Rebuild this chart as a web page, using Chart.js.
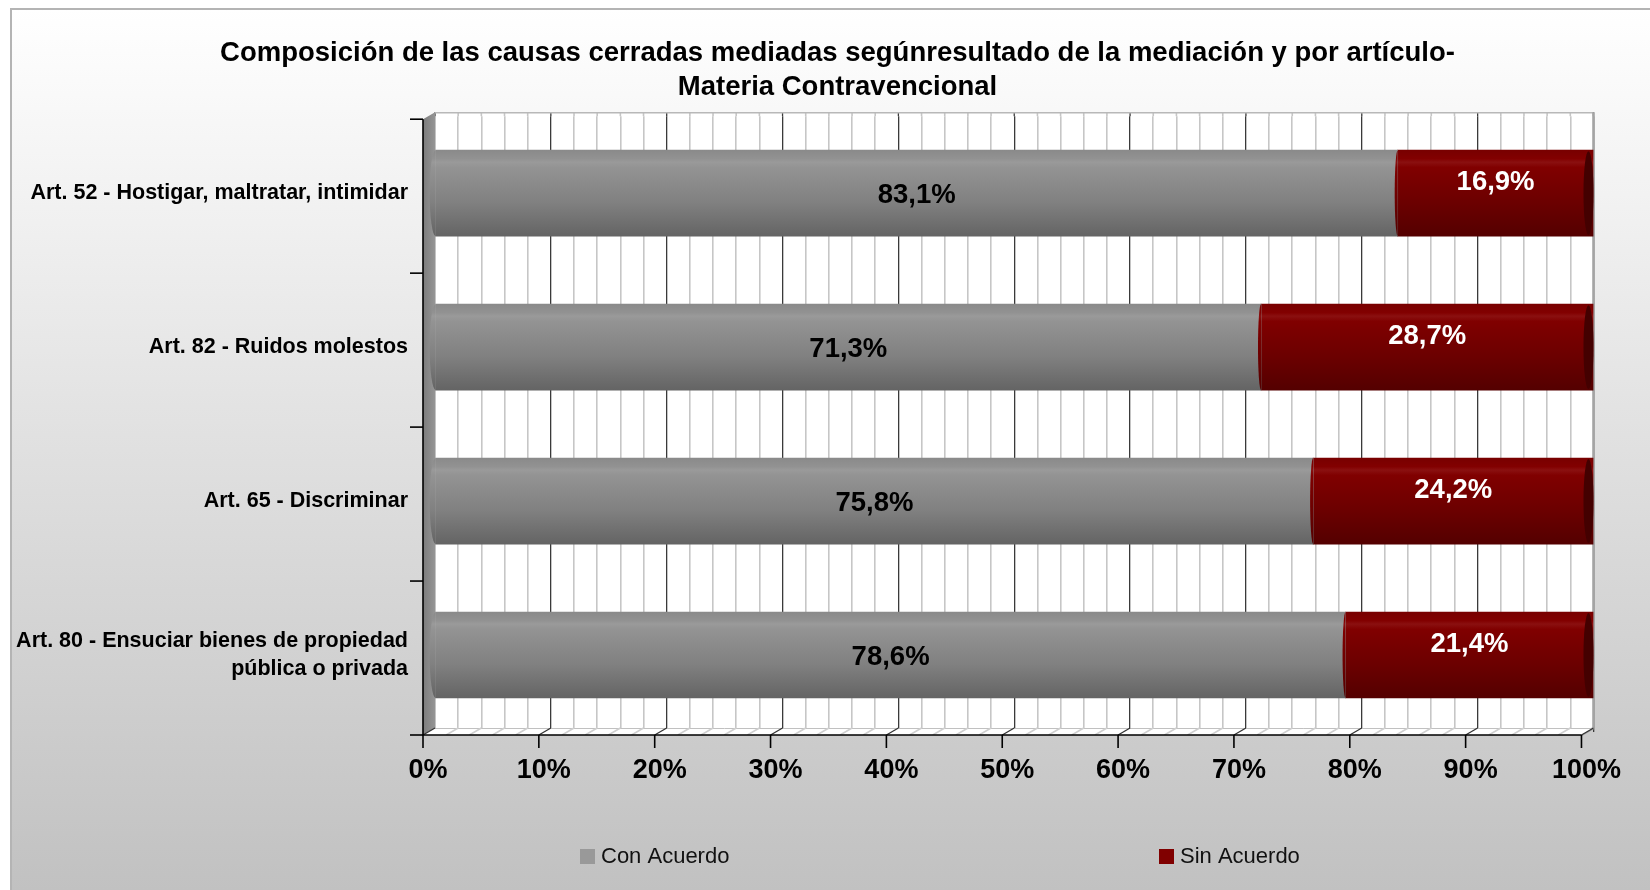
<!DOCTYPE html>
<html lang="es">
<head>
<meta charset="UTF-8">
<title>Composición de las causas cerradas mediadas</title>
<script src="https://cdn.jsdelivr.net/npm/chart.js@4.4.1/dist/chart.umd.min.js"></script>
<style>
  body { margin: 0; background: #fff; }
  canvas { display: block; }
</style>
</head>
<body>
<canvas id="chart" width="1650" height="890"></canvas>
<script>
// data
var categories = [
  'Art. 52 - Hostigar, maltratar, intimidar',
  'Art. 82 - Ruidos molestos',
  'Art. 65 - Discriminar',
  ['Art. 80 - Ensuciar bienes de propiedad', 'pública o privada']
];
var conAcuerdo = [83.1, 71.3, 75.8, 78.6];
var sinAcuerdo = [16.9, 28.7, 24.2, 21.4];
var xTickLabels = ['0%', '10%', '20%', '30%', '40%', '50%', '60%', '70%', '80%', '90%', '100%'];
var seriesNames = ['Con Acuerdo', 'Sin Acuerdo'];

var FONT = "'Liberation Sans', Arial, sans-serif";
var BAR_H = 86;
var DX = 12, DY = 7; // fake 3d depth
var WALL_UP = 4;     // back wall starts a bit above the chart area

var grayStops = [[0, '#8a8a8a'], [0.1, '#929292'], [0.14, '#9a9a9a'], [0.2, '#939393'], [0.6, '#818181'], [1, '#646464']];
var redStops = [[0, '#780000'], [0.1, '#820000'], [0.14, '#8a1010'], [0.2, '#800000'], [0.6, '#6c0000'], [1, '#540000']];

function cylinder(stops) {
  return function (c) {
    var chart = c.chart;
    var ys = chart.scales.y;
    if (!chart.chartArea || !ys || c.dataIndex === undefined) return stops[3][1];
    var yc = ys.getPixelForValue(c.dataIndex);
    var g = chart.ctx.createLinearGradient(0, yc - BAR_H / 2, 0, yc + BAR_H / 2);
    stops.forEach(function (s) { g.addColorStop(s[0], s[1]); });
    return g;
  };
}

function fmt(v) {
  return v.toFixed(1).replace('.', ',') + '%';
}

function isMajor(v) {
  return Math.round(v) % 10 === 0;
}

// title sits a little right of the canvas centre in the source
var titleShift = {
  id: 'titleShift',
  afterLayout: function (chart) {
    var t = chart.titleBlock;
    if (t) { t.left += 38; t.right += 38; }
  }
};

// background box, white back wall
var backdrop = {
  id: 'backdrop',
  beforeDraw: function (chart) {
    var ctx = chart.ctx, w = chart.width, h = chart.height, a = chart.chartArea;
    ctx.save();
    ctx.fillStyle = '#fff';
    ctx.fillRect(0, 0, w, h);
    var g = ctx.createLinearGradient(0, 9, 0, h);
    g.addColorStop(0, '#ffffff');
    g.addColorStop(1, '#c1c1c1');
    ctx.fillStyle = g;
    ctx.fillRect(11, 9, w - 11, h - 9);
    ctx.strokeStyle = '#b4b4b4';
    ctx.lineWidth = 2;
    ctx.beginPath();
    ctx.moveTo(11, h); ctx.lineTo(11, 9); ctx.lineTo(w, 9);
    ctx.stroke();
    ctx.fillStyle = '#fff';
    ctx.fillRect(a.left, a.top - WALL_UP, a.right - a.left, a.bottom - a.top);
    ctx.restore();
  }
};

// side wall, floor, front axes
var frame = {
  id: 'frame',
  beforeDatasetsDraw: function (chart) {
    var ctx = chart.ctx, a = chart.chartArea, xs = chart.scales.x, ys = chart.scales.y;
    var L = a.left, R = a.right, T = a.top - WALL_UP, B = a.bottom - WALL_UP;
    ctx.save();
    // grid lines up to the wall top
    xs.ticks.forEach(function (t) {
      var x = xs.getPixelForValue(t.value);
      ctx.strokeStyle = isMajor(t.value) ? '#3a3a3a' : '#c6c6c6';
      ctx.lineWidth = isMajor(t.value) ? 1.3 : 1.6;
      ctx.beginPath(); ctx.moveTo(x, T); ctx.lineTo(x, a.top); ctx.stroke();
    });
    // top edge and right edge of the wall
    ctx.strokeStyle = '#b8b8b8';
    ctx.lineWidth = 1.5;
    ctx.beginPath(); ctx.moveTo(L, T + 0.5); ctx.lineTo(R, T + 0.5); ctx.stroke();
    ctx.strokeStyle = '#a4a4a4';
    ctx.lineWidth = 2.5;
    ctx.beginPath(); ctx.moveTo(R, T); ctx.lineTo(R, B); ctx.lineTo(R - DX, B + DY); ctx.stroke();
    // side wall
    var sg = ctx.createLinearGradient(L - DX, 0, L, 0);
    sg.addColorStop(0, '#7c7c7c');
    sg.addColorStop(1, '#959595');
    ctx.fillStyle = sg;
    ctx.beginPath();
    ctx.moveTo(L - DX, T + DY); ctx.lineTo(L, T); ctx.lineTo(L, B); ctx.lineTo(L - DX, B + DY);
    ctx.closePath(); ctx.fill();
    // floor
    ctx.fillStyle = '#fff';
    ctx.beginPath();
    ctx.moveTo(L - DX, B + DY); ctx.lineTo(L, B); ctx.lineTo(R, B); ctx.lineTo(R - DX, B + DY);
    ctx.closePath(); ctx.fill();
    ctx.strokeStyle = '#c0c0c0';
    ctx.lineWidth = 1;
    ctx.beginPath(); ctx.moveTo(L, B + 0.5); ctx.lineTo(R, B + 0.5); ctx.stroke();
    xs.ticks.forEach(function (t) {
      var x = xs.getPixelForValue(t.value);
      ctx.strokeStyle = isMajor(t.value) ? '#333' : '#cfcfcf';
      ctx.lineWidth = isMajor(t.value) ? 1.3 : 1.5;
      ctx.beginPath(); ctx.moveTo(x, B); ctx.lineTo(x - DX, B + DY); ctx.stroke();
    });
    // front axes
    ctx.strokeStyle = '#000';
    ctx.lineWidth = 1.6;
    ctx.beginPath();
    ctx.moveTo(L - DX, T + DY); ctx.lineTo(L - DX, B + DY); ctx.lineTo(R - DX, B + DY);
    ctx.stroke();
    // x tick marks
    for (var i = 0; i < xTickLabels.length; i++) {
      var x = xs.getPixelForValue(i * 10) - DX;
      ctx.beginPath(); ctx.moveTo(x, B + DY); ctx.lineTo(x, B + DY + 13); ctx.stroke();
    }
    // y tick marks at category boundaries
    var n = categories.length;
    for (var k = 0; k <= n; k++) {
      var yb = ys.getPixelForValue(k - 0.5);
      var yf = T + DY + (yb - a.top) * (B - T) / (a.bottom - a.top);
      ctx.beginPath(); ctx.moveTo(L - DX - 13, yf); ctx.lineTo(L - DX, yf); ctx.stroke();
    }
    ctx.restore();
  }
};

// cylinder ends and value labels
var barLabels = {
  id: 'barLabels',
  afterDatasetsDraw: function (chart) {
    var ctx = chart.ctx;
    ctx.save();
    chart.data.datasets.forEach(function (ds, di) {
      var meta = chart.getDatasetMeta(di);
      meta.data.forEach(function (bar, i) {
        var h = bar.height / 2;
        var lo = Math.min(bar.x, bar.base);
        var hi = Math.max(bar.x, bar.base);
        // left end bulge
        ctx.fillStyle = ds.backgroundColor({ chart: chart, dataIndex: i });
        ctx.beginPath();
        ctx.ellipse(lo, bar.y, di === 0 ? 6 : 3, h, 0, Math.PI / 2, Math.PI * 1.5);
        ctx.fill();
        if (di === chart.data.datasets.length - 1) {
          ctx.fillStyle = '#440000';
          ctx.beginPath();
          ctx.ellipse(hi - 5, bar.y, 5, h - 1, 0, 0, Math.PI * 2);
          ctx.fill();
        }
        ctx.font = 'bold 27.5px ' + FONT;
        ctx.textAlign = 'center';
        ctx.textBaseline = 'middle';
        ctx.fillStyle = ds.labelColor;
        ctx.fillText(fmt(ds.data[i]), (lo + hi) / 2, bar.y + ds.labelShift);
      });
    });
    ctx.restore();
  }
};

// legend laid out like the source (two wide columns)
var legendX = [580, 1159];
var wideLegend = {
  id: 'wideLegend',
  afterDraw: function (chart) {
    var ctx = chart.ctx;
    var y = 857;
    ctx.save();
    ctx.font = '22px ' + FONT;
    ctx.textBaseline = 'middle';
    ctx.textAlign = 'left';
    chart.data.datasets.forEach(function (ds, i) {
      ctx.fillStyle = ds.swatch;
      ctx.fillRect(legendX[i], y - 8, 15, 15);
      ctx.fillStyle = '#111';
      ctx.fillText(ds.label, legendX[i] + 21, y);
    });
    ctx.restore();
  }
};

var ctx = document.getElementById('chart').getContext('2d');
var chart = new Chart(ctx, {
  type: 'bar',
  data: {
    labels: categories,
    datasets: [{
      label: seriesNames[0],
      data: conAcuerdo,
      backgroundColor: cylinder(grayStops),
      swatch: '#999999',
      labelColor: '#000',
      labelShift: 2,
      barThickness: BAR_H
    }, {
      label: seriesNames[1],
      data: sinAcuerdo,
      backgroundColor: cylinder(redStops),
      swatch: '#800000',
      labelColor: '#fff',
      labelShift: -11,
      barThickness: BAR_H
    }]
  },
  options: {
    indexAxis: 'y',
    responsive: false,
    animation: false,
    layout: { padding: { top: 16, left: 0, right: 51, bottom: 0 } },
    plugins: {
      legend: { display: false },
      tooltip: { enabled: false },
      title: {
        display: true,
        text: ['Composición de las causas cerradas mediadas segúnresultado de la mediación y por artículo-', 'Materia Contravencional'],
        color: '#000',
        font: { family: FONT, size: 27.5, weight: 'bold', lineHeight: 1.24 },
        padding: { top: 20, bottom: 12 }
      }
    },
    scales: {
      x: {
        stacked: true,
        min: 0,
        max: 100,
        grid: {
          drawTicks: false,
          color: function (c) { return isMajor(c.tick.value) ? '#3a3a3a' : '#c6c6c6'; },
          lineWidth: function (c) { return isMajor(c.tick.value) ? 1.3 : 1.6; }
        },
        border: { display: false },
        ticks: {
          stepSize: 2,
          autoSkip: false,
          maxRotation: 0,
          labelOffset: -7,
          padding: 22,
          color: '#000',
          font: { family: FONT, size: 27, weight: 'bold' },
          callback: function (v) {
            v = Math.round(v);
            return v % 10 === 0 ? xTickLabels[v / 10] : '';
          }
        },
        afterFit: function (s) { s.height = 158; }
      },
      y: {
        stacked: true,
        grid: { display: false, drawTicks: false },
        border: { display: false },
        ticks: {
          color: '#000',
          padding: 27,
          font: { family: FONT, size: 21.5, weight: 'bold', lineHeight: 1.3 }
        },
        afterFit: function (s) { s.width = 435; }
      }
    }
  },
  plugins: [titleShift, backdrop, frame, barLabels, wideLegend]
});
</script>
</body>
</html>
